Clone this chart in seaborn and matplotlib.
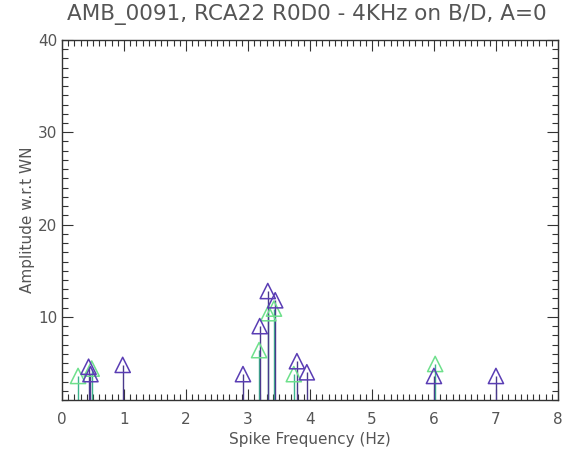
import numpy as np
import pandas as pd
import matplotlib
matplotlib.use("Agg")
import matplotlib.pyplot as plt
import seaborn as sns
from matplotlib.ticker import MultipleLocator

# Spike frequencies (Hz) and amplitudes
purple_freq = [0.43, 0.46, 0.98, 2.92, 3.19, 3.32, 3.44, 3.79, 3.95, 6.00, 7.00]
purple_amp = [4.6, 3.8, 4.8, 3.8, 9.0, 12.8, 11.8, 5.2, 4.0, 3.6, 3.6]
green_freq = [0.26, 0.48, 3.18, 3.33, 3.42, 3.74, 6.02]
green_amp = [3.6, 4.4, 6.4, 10.4, 10.9, 3.8, 4.9]

TITLE = "AMB_0091, RCA22 R0D0 - 4KHz on B/D, A=0"
Y_MIN, Y_MAX = 1, 40
X_MIN, X_MAX = 0, 8

PURPLE = "#5a3db4"
PURPLE_STEM = "#4a3a8c"
GREEN = "#6ee08c"
GREEN_STEM = "#3cb48c"
TEXT = "#555555"

sns.set_style("ticks")
plt.rcParams['font.family'] = ['DejaVu Sans']

fig = plt.figure(figsize=(5.63, 4.54), dpi=100)
ax = fig.add_axes([0.110, 0.119, 0.881, 0.793])

green_df = pd.DataFrame({"freq": green_freq, "amp": green_amp})
purple_df = pd.DataFrame({"freq": purple_freq, "amp": purple_amp})

# stems
ax.vlines(green_df["freq"], Y_MIN, green_df["amp"], color=GREEN_STEM, lw=1.0, zorder=2)
ax.vlines(purple_df["freq"], Y_MIN, purple_df["amp"], color=PURPLE_STEM, lw=1.0, zorder=3)

# open triangles
sns.scatterplot(data=green_df, x="freq", y="amp", marker="^", s=120,
                facecolors="none", edgecolors=GREEN, linewidth=1.1, ax=ax, zorder=4)
sns.scatterplot(data=purple_df, x="freq", y="amp", marker="^", s=120,
                facecolors="none", edgecolors=PURPLE, linewidth=1.1, ax=ax, zorder=5)

ax.set_xlim(X_MIN, X_MAX)
ax.set_ylim(Y_MIN, Y_MAX)
ax.xaxis.set_major_locator(MultipleLocator(1))
ax.xaxis.set_minor_locator(MultipleLocator(0.1))
ax.yaxis.set_major_locator(MultipleLocator(10))
ax.yaxis.set_minor_locator(MultipleLocator(1))
ax.set_yticks([10, 20, 30, 40])

ax.tick_params(which="both", direction="in", top=True, right=True, color="#333333",
               labelcolor=TEXT, labelsize=11)
ax.tick_params(which="major", length=8, width=0.8)
ax.tick_params(which="minor", length=4, width=0.8)
ax.tick_params(axis="x", which="major", pad=9)
for sp in ax.spines.values():
    sp.set_color("#333333")
    sp.set_linewidth(1.0)

ax.set_xlabel("Spike Frequency (Hz)", color=TEXT, fontsize=11, labelpad=3)
ax.set_ylabel("Amplitude w.r.t WN", color=TEXT, fontsize=11, labelpad=2)
fig.text(0.545, 0.967, TITLE, color=TEXT, fontsize=15.5, ha="center", va="center")

fig.savefig("out.png", dpi=100)
